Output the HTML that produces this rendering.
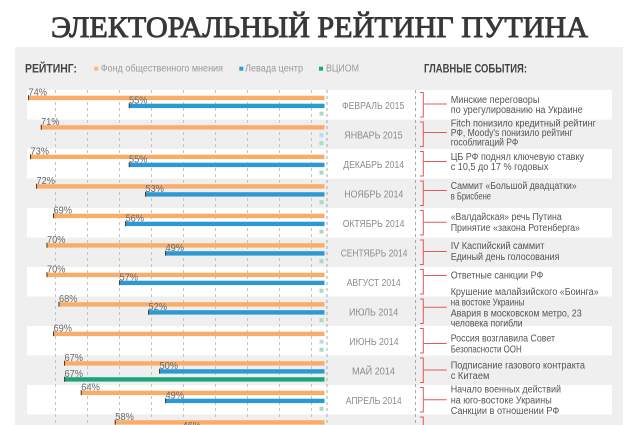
<!DOCTYPE html>
<html><head><meta charset="utf-8"><style>html,body{margin:0;padding:0;background:#fff;}svg{display:block;}</style></head>
<body>
<svg width="640" height="425" viewBox="0 0 640 425" xmlns="http://www.w3.org/2000/svg" font-family="'Liberation Sans', sans-serif">
<rect width="640" height="425" fill="#fff"/>
<text x="51" y="37" font-family="'Liberation Serif', serif" font-size="30" fill="#383838" stroke="#383838" stroke-width="0.9" textLength="537" lengthAdjust="spacingAndGlyphs">ЭЛЕКТОРАЛЬНЫЙ РЕЙТИНГ ПУТИНА</text>
<rect x="15" y="47" width="608" height="378" fill="#efefef"/>
<!-- header -->
<text x="25" y="72.7" font-size="12" font-weight="bold" fill="#444" textLength="52" lengthAdjust="spacingAndGlyphs">РЕЙТИНГ:</text>
<rect x="94.3" y="66.7" width="4" height="4" fill="#f6b88a"/>
<text x="100.7" y="71.7" font-size="10" fill="#9a9a9a" textLength="122.3" lengthAdjust="spacingAndGlyphs">Фонд общественного мнения</text>
<rect x="239.3" y="66.7" width="4" height="4" fill="#2e9ad6"/>
<text x="245" y="71.7" font-size="10" fill="#9a9a9a" textLength="58" lengthAdjust="spacingAndGlyphs">Левада центр</text>
<rect x="319" y="66.7" width="4" height="4" fill="#1aab76"/>
<text x="326" y="71.7" font-size="10" fill="#9a9a9a" textLength="33" lengthAdjust="spacingAndGlyphs">ВЦИОМ</text>
<text x="424" y="72.7" font-size="12" font-weight="bold" fill="#444" textLength="103" lengthAdjust="spacingAndGlyphs">ГЛАВНЫЕ СОБЫТИЯ:</text>
<!-- white rows -->
<g fill="#fff">
<rect x="27" y="90" width="585" height="29.5"/>
<rect x="27" y="149" width="585" height="29.5"/>
<rect x="27" y="208" width="585" height="29.5"/>
<rect x="27" y="267" width="585" height="29.5"/>
<rect x="27" y="326" width="585" height="29.5"/>
<rect x="27" y="385" width="585" height="29.5"/>
</g>
<!-- gridlines -->
<g stroke="#c4c4c4" stroke-width="1" stroke-dasharray="3,3">
<line x1="55.5" y1="90" x2="55.5" y2="425"/>
<line x1="87.5" y1="90" x2="87.5" y2="425"/>
<line x1="119.5" y1="90" x2="119.5" y2="425"/>
<line x1="151.5" y1="90" x2="151.5" y2="425"/>
<line x1="183.5" y1="90" x2="183.5" y2="425"/>
<line x1="215.5" y1="90" x2="215.5" y2="425"/>
<line x1="247.5" y1="90" x2="247.5" y2="425"/>
<line x1="279.5" y1="90" x2="279.5" y2="425"/>
<line x1="311.5" y1="90" x2="311.5" y2="425"/>
</g>
<g stroke="#a8a8a8" stroke-width="1" stroke-dasharray="3,3">
<line x1="327" y1="90" x2="327" y2="425"/>
<line x1="415.5" y1="90" x2="415.5" y2="425"/>
</g>
<!-- bars -->
<g>
<rect x="28.3" y="95.7" width="296.2" height="4.4" fill="#f9ad69"/>
<rect x="129" y="103.7" width="195.5" height="4.4" fill="#2b9ad4"/>
<rect x="319.5" y="111.7" width="4" height="4" fill="#a6dcc4"/>
<rect x="41" y="125.2" width="283.5" height="4.4" fill="#f9ad69"/>
<rect x="319.5" y="133.2" width="4" height="4" fill="#b5dcef"/>
<rect x="319.5" y="141.2" width="4" height="4" fill="#a6dcc4"/>
<rect x="30.3" y="154.7" width="294.2" height="4.4" fill="#f9ad69"/>
<rect x="129" y="162.7" width="195.5" height="4.4" fill="#2b9ad4"/>
<rect x="319.5" y="170.7" width="4" height="4" fill="#a6dcc4"/>
<rect x="36.3" y="184.2" width="288.2" height="4.4" fill="#f9ad69"/>
<rect x="145.3" y="192.2" width="179.2" height="4.4" fill="#2b9ad4"/>
<rect x="319.5" y="200.2" width="4" height="4" fill="#a6dcc4"/>
<rect x="53.3" y="213.7" width="271.2" height="4.4" fill="#f9ad69"/>
<rect x="125.3" y="221.7" width="199.2" height="4.4" fill="#2b9ad4"/>
<rect x="319.5" y="229.7" width="4" height="4" fill="#a6dcc4"/>
<rect x="46.7" y="243.2" width="277.8" height="4.4" fill="#f9ad69"/>
<rect x="165.3" y="251.2" width="159.2" height="4.4" fill="#2b9ad4"/>
<rect x="319.5" y="259.2" width="4" height="4" fill="#a6dcc4"/>
<rect x="46.7" y="272.7" width="277.8" height="4.4" fill="#f9ad69"/>
<rect x="119.3" y="280.7" width="205.2" height="4.4" fill="#2b9ad4"/>
<rect x="319.5" y="288.7" width="4" height="4" fill="#a6dcc4"/>
<rect x="58.7" y="302.2" width="265.8" height="4.4" fill="#f9ad69"/>
<rect x="148.3" y="310.2" width="176.2" height="4.4" fill="#2b9ad4"/>
<rect x="319.5" y="318.2" width="4" height="4" fill="#a6dcc4"/>
<rect x="53.3" y="331.7" width="271.2" height="4.4" fill="#f9ad69"/>
<rect x="319.5" y="339.7" width="4" height="4" fill="#b5dcef"/>
<rect x="319.5" y="347.7" width="4" height="4" fill="#a6dcc4"/>
<rect x="64.3" y="361.2" width="260.2" height="4.4" fill="#f9ad69"/>
<rect x="159.3" y="369.2" width="165.2" height="4.4" fill="#2b9ad4"/>
<rect x="64.3" y="377.2" width="260.2" height="4.4" fill="#1ba57d"/>
<rect x="81" y="390.7" width="243.5" height="4.4" fill="#f9ad69"/>
<rect x="165.3" y="398.7" width="159.2" height="4.4" fill="#2b9ad4"/>
<rect x="319.5" y="406.7" width="4" height="4" fill="#a6dcc4"/>
<rect x="115" y="420.2" width="209.5" height="4.4" fill="#f9ad69"/>
</g>
<!-- ticks -->
<g fill="#5a3d22">
<rect x="28" y="95.2" width="1.1" height="5"/>
<rect x="128.7" y="103.2" width="1.1" height="5"/>
<rect x="40.7" y="124.7" width="1.1" height="5"/>
<rect x="30" y="154.2" width="1.1" height="5"/>
<rect x="128.7" y="162.2" width="1.1" height="5"/>
<rect x="36" y="183.7" width="1.1" height="5"/>
<rect x="145" y="191.7" width="1.1" height="5"/>
<rect x="53" y="213.2" width="1.1" height="5"/>
<rect x="125" y="221.2" width="1.1" height="5"/>
<rect x="46.4" y="242.7" width="1.1" height="5"/>
<rect x="165" y="250.7" width="1.1" height="5"/>
<rect x="46.4" y="272.2" width="1.1" height="5"/>
<rect x="119" y="280.2" width="1.1" height="5"/>
<rect x="58.4" y="301.7" width="1.1" height="5"/>
<rect x="148" y="309.7" width="1.1" height="5"/>
<rect x="53" y="331.2" width="1.1" height="5"/>
<rect x="64" y="360.7" width="1.1" height="5"/>
<rect x="159" y="368.7" width="1.1" height="5"/>
<rect x="64" y="376.7" width="1.1" height="5"/>
<rect x="80.7" y="390.2" width="1.1" height="5"/>
<rect x="165" y="398.2" width="1.1" height="5"/>
<rect x="114.7" y="419.7" width="1.1" height="5"/>
</g>
<!-- value labels -->
<g font-size="10" fill="#686868">
<text x="28.5" y="95.5" textLength="18.5" lengthAdjust="spacingAndGlyphs">74%</text>
<text x="129" y="103.5" textLength="18.5" lengthAdjust="spacingAndGlyphs">55%</text>
<text x="41" y="125" textLength="18.5" lengthAdjust="spacingAndGlyphs">71%</text>
<text x="30.5" y="154.5" textLength="18.5" lengthAdjust="spacingAndGlyphs">73%</text>
<text x="129" y="162.5" textLength="18.5" lengthAdjust="spacingAndGlyphs">55%</text>
<text x="36.5" y="184" textLength="18.5" lengthAdjust="spacingAndGlyphs">72%</text>
<text x="145.5" y="192" textLength="18.5" lengthAdjust="spacingAndGlyphs">53%</text>
<text x="53.5" y="213.5" textLength="18.5" lengthAdjust="spacingAndGlyphs">69%</text>
<text x="125.5" y="221.5" textLength="18.5" lengthAdjust="spacingAndGlyphs">56%</text>
<text x="47" y="243" textLength="18.5" lengthAdjust="spacingAndGlyphs">70%</text>
<text x="165.5" y="251" textLength="18.5" lengthAdjust="spacingAndGlyphs">49%</text>
<text x="47" y="272.5" textLength="18.5" lengthAdjust="spacingAndGlyphs">70%</text>
<text x="119.5" y="280.5" textLength="18.5" lengthAdjust="spacingAndGlyphs">57%</text>
<text x="59" y="302" textLength="18.5" lengthAdjust="spacingAndGlyphs">68%</text>
<text x="148.5" y="310" textLength="18.5" lengthAdjust="spacingAndGlyphs">52%</text>
<text x="53.5" y="331.5" textLength="18.5" lengthAdjust="spacingAndGlyphs">69%</text>
<text x="64.5" y="361" textLength="18.5" lengthAdjust="spacingAndGlyphs">67%</text>
<text x="159.5" y="369" textLength="18.5" lengthAdjust="spacingAndGlyphs">50%</text>
<text x="64.5" y="377" textLength="18.5" lengthAdjust="spacingAndGlyphs">67%</text>
<text x="81.3" y="390.5" textLength="18.5" lengthAdjust="spacingAndGlyphs">64%</text>
<text x="165.5" y="398.5" textLength="18.5" lengthAdjust="spacingAndGlyphs">49%</text>
<text x="115.3" y="420" textLength="18.5" lengthAdjust="spacingAndGlyphs">58%</text>
<text x="182.5" y="428.8" textLength="18.5" lengthAdjust="spacingAndGlyphs">46%</text>
</g>
<!-- month labels -->
<g font-size="10" fill="#8c8c8c">
<text x="342" y="109" textLength="62.3" lengthAdjust="spacingAndGlyphs">ФЕВРАЛЬ 2015</text>
<text x="344.3" y="138.5" textLength="58.3" lengthAdjust="spacingAndGlyphs">ЯНВАРЬ 2015</text>
<text x="343.3" y="168" textLength="60.7" lengthAdjust="spacingAndGlyphs">ДЕКАБРЬ 2014</text>
<text x="344.3" y="197.5" textLength="59" lengthAdjust="spacingAndGlyphs">НОЯБРЬ 2014</text>
<text x="342.7" y="227" textLength="61.7" lengthAdjust="spacingAndGlyphs">ОКТЯБРЬ 2014</text>
<text x="340.7" y="256.5" textLength="66.7" lengthAdjust="spacingAndGlyphs">СЕНТЯБРЬ 2014</text>
<text x="346.7" y="286" textLength="54" lengthAdjust="spacingAndGlyphs">АВГУСТ 2014</text>
<text x="349" y="315.5" textLength="49.3" lengthAdjust="spacingAndGlyphs">ИЮЛЬ 2014</text>
<text x="349.3" y="345" textLength="49.3" lengthAdjust="spacingAndGlyphs">ИЮНЬ 2014</text>
<text x="352" y="374.5" textLength="43" lengthAdjust="spacingAndGlyphs">МАЙ 2014</text>
<text x="345.7" y="404" textLength="56" lengthAdjust="spacingAndGlyphs">АПРЕЛЬ 2014</text>
</g>
<!-- brackets -->
<g stroke="#e05a5a" stroke-width="1" fill="none">
<path d="M420,92.5 H423.3 V117 H420 M423.3,104 H446.7"/>
<path d="M420,122 H423.3 V146.5 H420 M423.3,132.5 H446.7"/>
<path d="M420,151.5 H423.3 V176 H420 M423.3,161.5 H446.7"/>
<path d="M420,181 H423.3 V205.5 H420 M423.3,190.5 H446.7"/>
<path d="M420,210.5 H423.3 V235 H420 M423.3,222.3 H446.7"/>
<path d="M420,240 H423.3 V264.5 H420 M423.3,251.5 H446.7"/>
<path d="M420,269.5 H423.3 V294 H420 M423.3,275.5 H446.7"/>
<path d="M420,299 H423.3 V323.5 H420 M423.3,307.2 H446.7"/>
<path d="M420,328.5 H423.3 V353 H420 M423.3,343.5 H446.7"/>
<path d="M420,358 H423.3 V382.5 H420 M423.3,370 H446.7"/>
<path d="M420,387.5 H423.3 V412 H420 M423.3,399.8 H446.7"/>
<path d="M420,417 H423.3 V426"/>
</g>
<!-- events -->
<g font-size="10" fill="#555">
<text x="450.7" y="103" textLength="88.7" lengthAdjust="spacingAndGlyphs">Минские переговоры</text>
<text x="450.7" y="113" textLength="132" lengthAdjust="spacingAndGlyphs">по урегулированию на Украине</text>
<text x="450.7" y="126.3" textLength="145.3" lengthAdjust="spacingAndGlyphs">Fitch понизило кредитный рейтинг</text>
<text x="450.7" y="135.9" textLength="122" lengthAdjust="spacingAndGlyphs">РФ, Moody's понизило рейтинг</text>
<text x="450.7" y="145.5" textLength="67.7" lengthAdjust="spacingAndGlyphs">гособлигаций РФ</text>
<text x="450.7" y="160" textLength="133.3" lengthAdjust="spacingAndGlyphs">ЦБ РФ поднял ключевую ставку</text>
<text x="450.7" y="170" textLength="97.7" lengthAdjust="spacingAndGlyphs">с 10,5 до 17 % годовых</text>
<text x="450.7" y="189" textLength="126" lengthAdjust="spacingAndGlyphs">Саммит «Большой двадцатки»</text>
<text x="450.7" y="199.5" textLength="40.3" lengthAdjust="spacingAndGlyphs">в Брисбене</text>
<text x="450.7" y="220" textLength="111" lengthAdjust="spacingAndGlyphs">«Валдайская» речь Путина</text>
<text x="450.7" y="231" textLength="129.3" lengthAdjust="spacingAndGlyphs">Принятие «закона Ротенберга»</text>
<text x="450.7" y="249" textLength="93.7" lengthAdjust="spacingAndGlyphs">IV Каспийский саммит</text>
<text x="450.7" y="260" textLength="108.7" lengthAdjust="spacingAndGlyphs">Единый день голосования</text>
<text x="450.7" y="278.3" textLength="92.7" lengthAdjust="spacingAndGlyphs">Ответные санкции РФ</text>
<text x="450.7" y="295" textLength="148" lengthAdjust="spacingAndGlyphs">Крушение малайзийского «Боинга»</text>
<text x="450.7" y="305.7" textLength="73.7" lengthAdjust="spacingAndGlyphs">на востоке Украины</text>
<text x="450.7" y="316.3" textLength="131" lengthAdjust="spacingAndGlyphs">Авария в московском метро, 23</text>
<text x="450.7" y="326.3" textLength="72" lengthAdjust="spacingAndGlyphs">человека погибли</text>
<text x="450.7" y="341.7" textLength="104.3" lengthAdjust="spacingAndGlyphs">Россия возглавила Совет</text>
<text x="450.7" y="352.7" textLength="71" lengthAdjust="spacingAndGlyphs">Безопасности ООН</text>
<text x="450.7" y="368.3" textLength="134.3" lengthAdjust="spacingAndGlyphs">Подписание газового контракта</text>
<text x="450.7" y="378.8" textLength="38.7" lengthAdjust="spacingAndGlyphs">с Китаем</text>
<text x="450.7" y="392.7" textLength="110.3" lengthAdjust="spacingAndGlyphs">Начало военных действий</text>
<text x="450.7" y="403.3" textLength="101" lengthAdjust="spacingAndGlyphs">на юго-востоке Украины</text>
<text x="450.7" y="414" textLength="108.7" lengthAdjust="spacingAndGlyphs">Санкции в отношении РФ</text>
</g>
</svg>
</body></html>
